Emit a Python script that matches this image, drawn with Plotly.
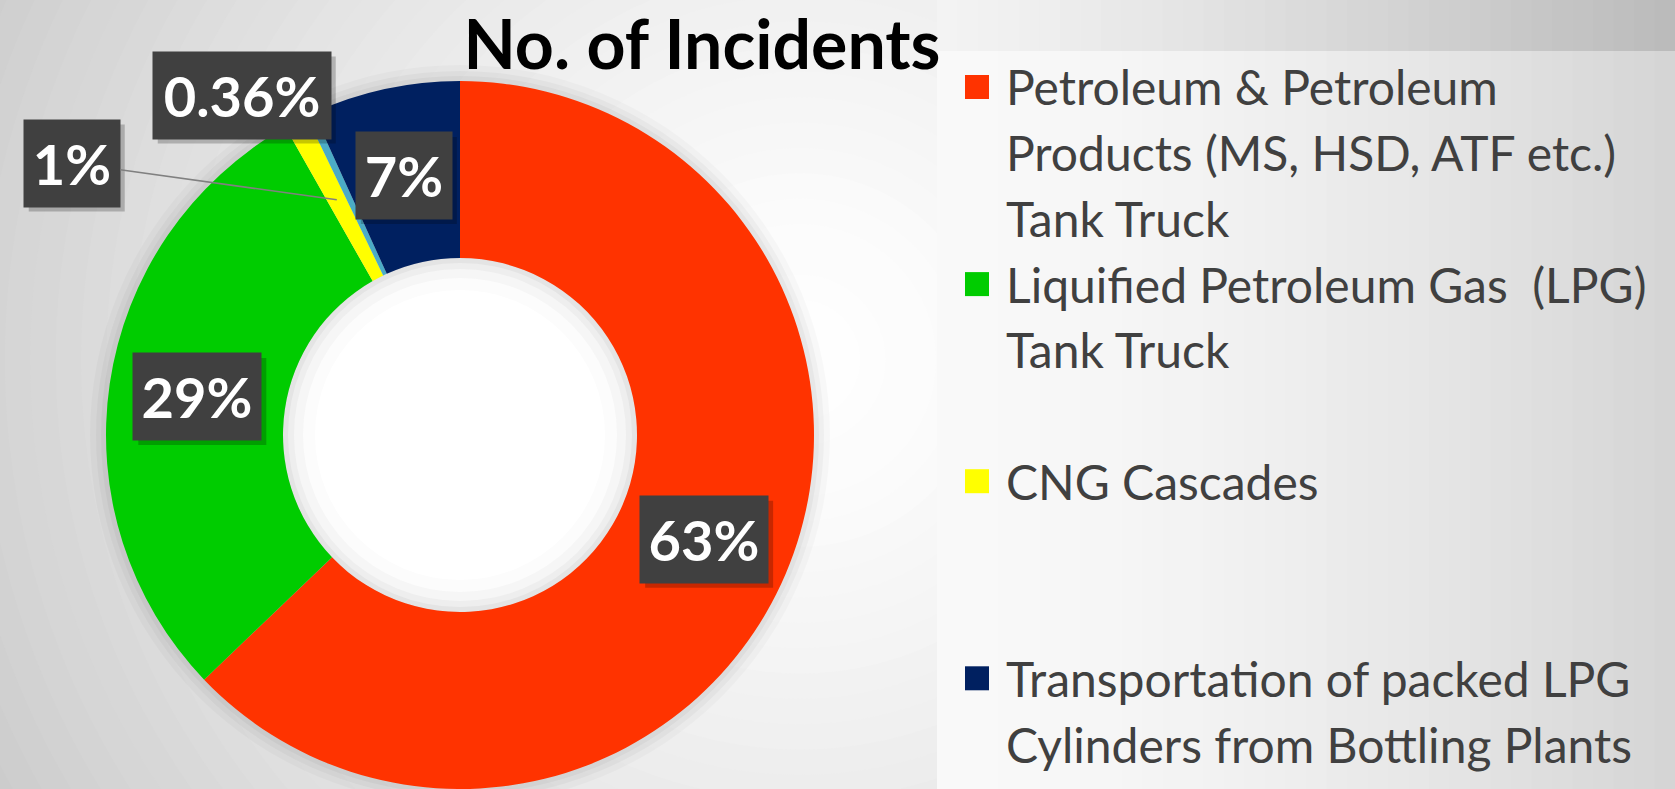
import math
import plotly.graph_objects as go

# ---------------- data ----------------
categories = [
    "Petroleum & Petroleum Products (MS, HSD, ATF etc.) Tank Truck",
    "Liquified Petroleum Gas  (LPG) Tank Truck",
    "CNG Cascades",
    "Others",
    "Transportation of packed LPG Cylinders from Bottling Plants",
]
incidents = [176, 81, 3, 1, 19]
slice_colors = ["#FF3300", "#00CC00", "#FFFF00", "#4BACC6", "#002060"]
legend_lines = [
    ["Petroleum & Petroleum", "Products (MS, HSD, ATF etc.)", "Tank Truck"],
    ["Liquified Petroleum Gas\u00a0 (LPG)", "Tank Truck"],
    ["CNG Cascades"],
    None,
    ["Transportation of packed LPG", "Cylinders from Bottling Plants"],
]
chart_title = "No. of Incidents"

# ---------------- layout constants ----------------
W, H = 1675, 789
CX, CY, R = 460, 435, 354
HOLE = 0.5
FONT = "Lato"


def px(x):
    return x / W


def py(y):
    return 1 - y / H


total = sum(incidents)
pct_text = []
for v in incidents:
    p = v / total * 100
    pct_text.append(f"{p:.2f}%" if p < 1 else f"{p:.0f}%")

# slice mid angles (clockwise from 12 o'clock)
mid_angles = []
acc = 0
for v in incidents:
    mid_angles.append((acc + v / 2) / total * 360)
    acc += v

r_mid = R * (1 + HOLE) / 2


def polar(angle_deg, rad):
    a = math.radians(angle_deg)
    return CX + rad * math.sin(a), CY - rad * math.cos(a)


fig = go.Figure()

fig.add_trace(go.Pie(
    values=incidents,
    labels=categories,
    marker=dict(colors=slice_colors, line=dict(width=0)),
    hole=HOLE,
    sort=False,
    direction="clockwise",
    rotation=0,
    textinfo="none",
    hoverinfo="label+value+percent",
    showlegend=False,
    domain=dict(x=[px(CX - R), px(CX + R)], y=[max(0, py(CY + R)), py(CY - R)]),
))

shapes = []


def circle(cx, cy, r, color):
    shapes.append(dict(type="circle", xref="paper", yref="paper",
                       x0=px(cx - r), x1=px(cx + r), y0=py(cy + r), y1=py(cy - r),
                       fillcolor=color, line=dict(width=0), layer="below"))


def rect(x0, y0, x1, y1, color, layer="below"):
    shapes.append(dict(type="rect", xref="paper", yref="paper",
                       x0=px(x0), x1=px(x1), y0=py(y1), y1=py(y0),
                       fillcolor=color, line=dict(width=0), layer=layer))


def grey(v):
    v = int(max(0, min(255, round(v))))
    return f"rgb({v},{v},{v})"


# radial background gradient
GX, GY = 800, 360
n = 44
for i in range(n):
    r = 1150 - i * (1150 - 60) / (n - 1)
    c = 255 - 57 * (r / 1000) ** 1.4
    circle(GX, GY, r, grey(c))

# soft shadow around the ring
for dr, a in [(16, 0.025), (10, 0.03), (5, 0.035)]:
    circle(CX, CY, R + dr, f"rgba(0,0,0,{a})")
# hole shading
rin = R * HOLE
for dr, c in [(0, 228), (5, 238), (11, 246), (20, 252), (32, 255)]:
    circle(CX, CY, rin - dr, grey(c))

# top strip gradient (right)
ns = 36
X0, X1 = 937, W
for i in range(ns):
    t = i / (ns - 1)
    xa = X0 + (X1 - X0) * i / ns
    xb = X0 + (X1 - X0) * (i + 1) / ns + 1
    rect(xa, 0, xb, 51, grey(243 - 56 * t ** 1.2))
# legend panel gradient
for i in range(ns):
    t = i / (ns - 1)
    xa = X0 + (X1 - X0) * i / ns
    xb = X0 + (X1 - X0) * (i + 1) / ns + 1
    rect(xa, 51, xb, H + 2, grey(249 - 36 * t ** 1.6))

annotations = []

# legend (custom, larger symbols)
LEG_Y0, LEG_PITCH = 87, 65.7
LEG_SLOTS = [0, 3, 6, None, 9]
SYM_CX, SYM = 977, 24
TEXT_X = 1004
for lines, slot, color in zip(legend_lines, LEG_SLOTS, slice_colors):
    if lines is None:
        continue
    y0 = LEG_Y0 + slot * LEG_PITCH
    rect(SYM_CX - SYM / 2, y0 - SYM / 2, SYM_CX + SYM / 2, y0 + SYM / 2, color, layer="above")
    for k, ln in enumerate(lines):
        annotations.append(dict(
            xref="paper", yref="paper", x=px(TEXT_X), y=py(y0 + k * LEG_PITCH),
            xanchor="left", yanchor="middle", showarrow=False, text=ln,
            font=dict(family=FONT, size=48, color="#404040"),
        ))

# data labels
LABEL_FONT = dict(family=FONT, size=56, color="white")
BOX = "#404040"
PAD = 10
BOX_H = 87


def box_width(txt):
    digits = sum(ch.isdigit() for ch in txt)
    dots = txt.count(".")
    return 32 * digits + 18 * dots + 64


# outside placements for the thin slices: (angle, radius) of box centre
outside = {2: (305.0, 474), 3: (327.3, 404)}
for i, txt in enumerate(pct_text):
    if i in outside:
        bx, by = polar(*outside[i])
    else:
        bx, by = polar(mid_angles[i], r_mid)
    bw = box_width(txt)
    # drop shadow
    rect(bx - bw / 2 + 5, by - BOX_H / 2 + 5, bx + bw / 2 + 5, by + BOX_H / 2 + 5,
         "rgba(0,0,0,0.22)", layer="above")
    common = dict(xref="paper", yref="paper", xanchor="center", yanchor="middle",
                  text=f"<b>{txt}</b>", font=LABEL_FONT, bgcolor=BOX,
                  borderpad=PAD, width=bw - 2 * PAD, height=BOX_H - 2 * PAD)
    if i == 2:
        axp, ayp = polar(mid_angles[i], r_mid)
        annotations.append(dict(
            x=px(axp), y=py(ayp), ax=bx - axp, ay=by - ayp, axref="pixel", ayref="pixel",
            showarrow=True, arrowhead=0, arrowwidth=1.5, arrowcolor="#808080",
            standoff=0, **common))
    else:
        annotations.append(dict(x=px(bx), y=py(by), showarrow=False, **common))

fig.update_layout(
    width=W, height=H, autosize=False,
    margin=dict(l=0, r=0, t=0, b=0),
    paper_bgcolor="#d8d8d8",
    plot_bgcolor="rgba(0,0,0,0)",
    title=dict(text=f"<b>{chart_title}</b>", x=px(702), xanchor="center",
               y=py(45), yanchor="middle",
               font=dict(family=FONT, size=68, color="black")),
    shapes=shapes,
    annotations=annotations,
    showlegend=False,
)

fig.write_html(
    "out.html",
    config={"displayModeBar": False},
    post_script="document.body.style.margin='0';document.body.style.overflow='hidden';",
)
